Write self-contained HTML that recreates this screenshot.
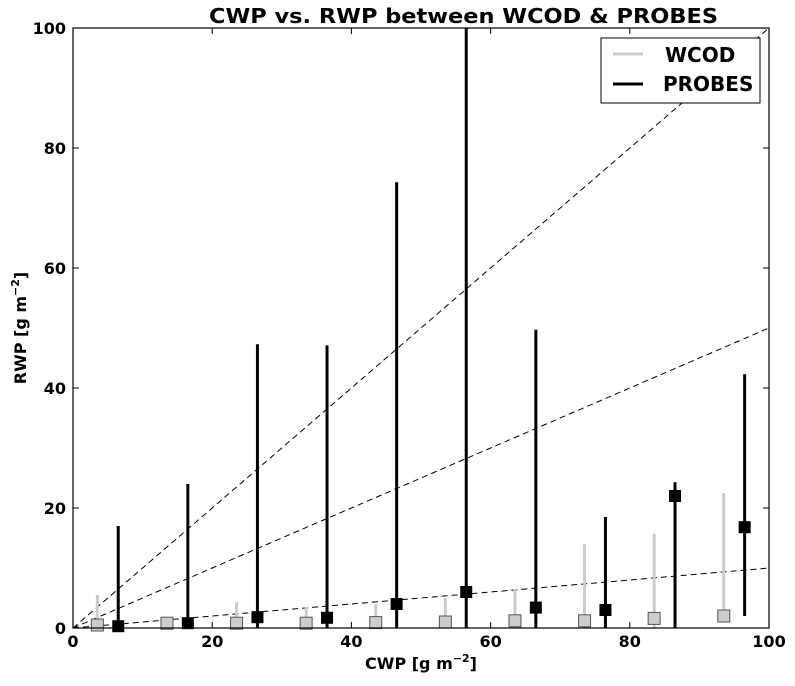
<!DOCTYPE html>
<html><head><meta charset="utf-8"><style>
body{margin:0;background:#fff;}
svg text{font-family:"DejaVu Sans","Liberation Sans",sans-serif;font-weight:bold;fill:#000;}
</style></head><body>
<svg id="chart" width="795" height="681" xmlns="http://www.w3.org/2000/svg">
<text x="209" y="23" font-size="20" textLength="509" lengthAdjust="spacingAndGlyphs">CWP vs. RWP between WCOD &amp; PROBES</text>
<g id="grid"></g>
<g id="lines"></g>
<g id="marks"></g>
<rect x="73" y="28" width="696" height="600" fill="none" stroke="#000" stroke-width="1.2"/>
<g id="ticks"></g>
<text x="421" y="669" font-size="16" text-anchor="middle">CWP [g m<tspan font-size="11" dy="-7">−2</tspan><tspan dy="7">]</tspan></text>
<text transform="translate(26,328) rotate(-90)" font-size="16" text-anchor="middle">RWP [g m<tspan font-size="11" dy="-7">−2</tspan><tspan dy="7">]</tspan></text>
<g>
<rect x="601" y="38" width="159" height="65" fill="#fff" stroke="#000" stroke-width="1"/>
<line x1="613" y1="54" x2="643" y2="54" stroke="#ccc" stroke-width="3"/>
<text x="665" y="62" font-size="20">WCOD</text>
<line x1="613" y1="84" x2="643" y2="84" stroke="#000" stroke-width="3"/>
<text x="663" y="91" font-size="20">PROBES</text>
</g>
</svg>
<script>
const wcodX=[3.5,13.5,23.5,33.5,43.5,53.5,63.5,73.5,83.5,93.5];
const wcodMed=[0.5,0.8,0.8,0.8,0.9,1.0,1.2,1.2,1.6,2.0];
const wcodHi=[5.5,1.5,4.3,3.5,4.0,5.0,6.5,14.0,15.7,22.5];
const wcodLo=[0,0,0,0,0,0,0,0,0,1];
const probX=[6.5,16.5,26.5,36.5,46.5,56.5,66.5,76.5,86.5,96.5];
const probMed=[0.3,0.8,1.8,1.7,4.0,6.0,3.4,3.0,22.0,16.8];
const probHi=[17,24,47.3,47.1,74.3,100,49.7,18.5,24.3,42.3];
const probLo=[0,0,0,0,0,0,0,0,0,2];
const slopes=[1,0.5,0.1];
const xTicks=[0,20,40,60,80,100];
const yTicks=[0,20,40,60,80,100];
const NS="http://www.w3.org/2000/svg";
const X=v=>73+v*6.96, Y=v=>628-v*6;
function mk(p,t,a){const e=document.createElementNS(NS,t);for(const k in a)e.setAttribute(k,a[k]);document.getElementById(p).appendChild(e);return e;}
slopes.forEach((s,i)=>{
 const e=mk('lines','line',{x1:X(0),y1:Y(0),x2:X(100),y2:Y(Math.min(100,100*s)),stroke:'#000','stroke-width':1,'stroke-dasharray':'6,4'});
 
 
});
wcodX.forEach((x,i)=>{
 const l=mk('marks','line',{x1:X(x),x2:X(x),y1:Y(wcodLo[i]),y2:Y(wcodHi[i]),stroke:'#ccc','stroke-width':3});
 
 
 const r=mk('marks','rect',{x:X(x)-6,y:Y(wcodMed[i])-6,width:12,height:12,fill:'#ccc',stroke:'#555','stroke-width':1});
 
 
});
probX.forEach((x,i)=>{
 const l=mk('marks','line',{x1:X(x),x2:X(x),y1:Y(probLo[i]),y2:Y(probHi[i]),stroke:'#000','stroke-width':3});
 
 
 const r=mk('marks','rect',{x:X(x)-6,y:Y(probMed[i])-6,width:12,height:12,fill:'#000'});
 
 
});
xTicks.forEach(t=>{
 mk('ticks','line',{x1:X(t),x2:X(t),y1:628,y2:622,stroke:'#000'});
 mk('ticks','line',{x1:X(t),x2:X(t),y1:28,y2:34,stroke:'#000'});
 const e=mk('ticks','text',{x:X(t),y:647,'font-size':16,'text-anchor':'middle'});e.textContent=t;
 
 
});
yTicks.forEach(t=>{
 mk('ticks','line',{x1:73,x2:79,y1:Y(t),y2:Y(t),stroke:'#000'});
 mk('ticks','line',{x1:769,x2:763,y1:Y(t),y2:Y(t),stroke:'#000'});
 const e=mk('ticks','text',{x:66,y:Y(t)+6,'font-size':16,'text-anchor':'end'});e.textContent=t;
 
 
});
</script>
</body></html>
